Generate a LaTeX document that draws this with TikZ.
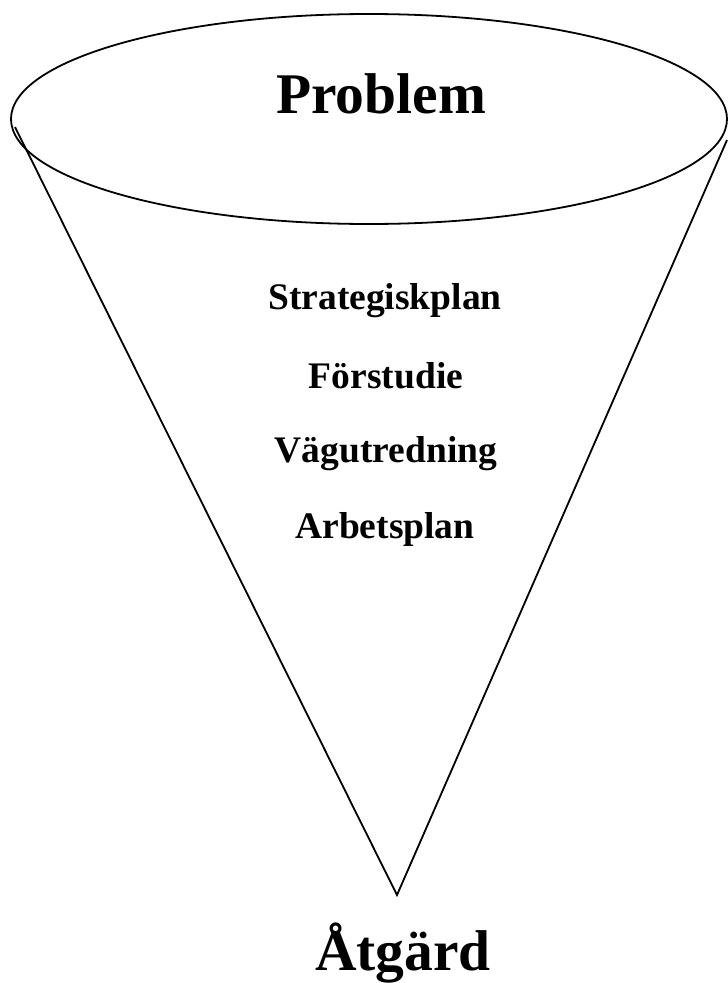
\documentclass[tikz,border=0pt]{standalone}
\usepackage{fontspec}
\setmainfont{Liberation Serif}
\usepackage{tikz}

\begin{document}
\begin{tikzpicture}[x=1pt, y=-1pt, line width=1.8pt,
    bigword/.style={anchor=base, inner sep=0pt, font=\fontsize{57.5}{60}\selectfont\bfseries},
    stage/.style={anchor=base, inner sep=0pt, font=\fontsize{37.5}{40}\selectfont\bfseries}]
    \useasboundingbox (0,0) rectangle (728,983);
    % funnel
    \coordinate (rimL) at (15,127);
    \coordinate (rimR) at (727,140);
    \coordinate (tip) at (397,895);
    \draw (369,119) ellipse [x radius=358, y radius=105];
    \draw (rimL) -- (tip) -- (rimR);

    \node[bigword] (problem) at (381,113) {Problem};
    \node[stage] (strat) at (385,309) {Strategiskplan};
    \node[stage] (forst) at (386,388) {Förstudie};
    \node[stage] (vag) at (386,462) {Vägutredning};
    \node[stage] (arb) at (385,538) {Arbetsplan};
    \node[bigword] (atgard) at (403,970) {Åtgärd};
\end{tikzpicture}
\end{document}
